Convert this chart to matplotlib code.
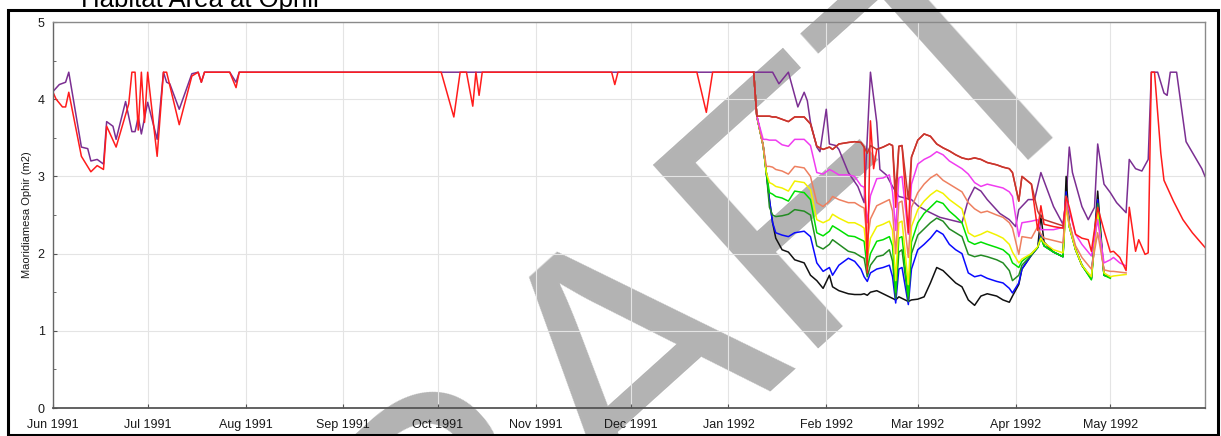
import pandas as pd
import numpy as np
import matplotlib
matplotlib.use('Agg')
import matplotlib.pyplot as plt
import matplotlib.dates as mdates
from matplotlib.ticker import MultipleLocator
from matplotlib.patches import Rectangle

plt.rcParams['font.family'] = ['Liberation Sans', 'DejaVu Sans']

nan = np.nan

# days counted from 1 Jun 1991
purple_days = [0, 2, 4, 5, 9, 11, 12, 14, 16, 17, 19, 20, 23, 25, 26, 27, 28, 30, 33, 35,
               36, 37, 40, 44, 46, 47, 48, 56, 58, 59, 228, 230, 233, 236, 238, 239, 240, 242, 243, 245,
               246, 248, 249, 252, 255, 257, 259, 261, 262, 264, 266, 268, 272, 274, 277, 281, 285, 288, 290, 292,
               294, 296, 298, 300, 303, 305, 306, 309, 311, 313, 315, 317, 320, 321, 322, 323, 326, 328, 330, 331,
               333, 335, 337, 340, 341, 343, 345, 347, 348, 350, 352, 353, 354, 356, 359, 361, 364, 365]
purple_vals = [4.10, 4.19, 4.22, 4.35, 3.38, 3.36, 3.20, 3.22, 3.16, 3.71, 3.65, 3.48, 3.97, 3.58, 3.58, 3.77, 3.55, 3.96, 3.48, 4.35,
               4.22, 4.20, 3.87, 4.33, 4.35, 4.22, 4.35, 4.35, 4.22, 4.35, 4.35, 4.20, 4.35, 3.90, 4.09, 3.98, 3.70, 3.38, 3.32, 3.87,
               3.42, 3.40, 3.35, 3.05, 2.87, 2.66, 4.35, 3.70, 3.09, 3.02, 2.87, 2.74, 2.70, 2.62, 2.55, 2.47, 2.43, 2.40, 2.70, 2.86,
               2.81, 2.70, 2.61, 2.52, 2.44, 2.35, 2.57, 2.70, 2.70, 3.05, 2.83, 2.61, 2.38, 2.70, 3.38, 3.05, 2.61, 2.44, 2.60, 3.42,
               2.90, 2.79, 2.66, 2.53, 3.22, 3.10, 3.07, 3.22, 4.35, 4.35, 4.08, 4.05, 4.35, 4.35, 3.45, 3.31, 3.10, 3.00]

red_days = [0, 1, 3, 4, 5, 9, 12, 14, 16, 17, 20, 24, 25, 26, 27, 28, 29, 30, 33, 35,
            36, 40, 44, 46, 47, 48, 56, 58, 59, 123, 127, 129, 131, 133, 134, 135, 136, 177, 178, 179,
            204, 207, 209, 222, 223, 225, 226, 227, 228, 229, 231, 233, 235, 238, 240, 242, 244, 246, 247, 249,
            252, 254, 256, 257, 258, 259, 260, 261, 263, 265, 266, 267, 268, 269, 271, 272, 274, 276, 278, 280,
            282, 284, 286, 288, 290, 292, 294, 296, 299, 301, 303, 304, 306, 307, 310, 312, 313, 314, 317, 320,
            321, 322, 324, 326, 328, 329, 331, 333, 335, 336, 338, 340, 341, 343, 344, 346, 347, 348, 349, 351,
            352, 355, 358, 361, 365]
red_vals = [4.09, 4.00, 3.90, 3.90, 4.09, 3.26, 3.06, 3.14, 3.09, 3.65, 3.38, 3.94, 4.35, 4.35, 3.60, 4.35, 3.70, 4.35, 3.26, 4.35,
            4.35, 3.67, 4.30, 4.35, 4.22, 4.35, 4.35, 4.15, 4.35, 4.35, 3.77, 4.35, 4.35, 3.91, 4.35, 4.05, 4.35, 4.35, 4.19, 4.35,
            4.35, 3.83, 4.35, 4.35, 3.78, 3.78, 3.78, 3.78, 3.77, 3.77, 3.74, 3.71, 3.77, 3.77, 3.68, 3.39, 3.35, 3.38, 3.35, 3.42,
            3.44, 3.45, 3.44, 3.38, 1.75, 3.72, 3.10, 3.35, 3.38, 3.42, 3.40, 2.60, 3.39, 3.40, 2.27, 3.25, 3.47, 3.55, 3.52, 3.42,
            3.37, 3.33, 3.28, 3.24, 3.22, 3.24, 3.22, 3.18, 3.15, 3.12, 3.10, 3.05, 2.68, 3.00, 2.90, 2.30, 2.62, 2.38, 2.35, 2.33,
            2.74, 2.60, 2.25, 2.20, 2.18, 2.03, 2.60, 2.30, 2.02, 2.03, 1.95, 1.78, 2.60, 2.03, 2.18, 1.99, 2.01, 4.35, 4.35, 3.30,
            2.95, 2.68, 2.44, 2.27, 2.08]

# scenario runs, Jan - May 1992
band_days = [222, 223, 225, 226, 227, 228, 229, 231, 233, 235,
             238, 240, 242, 244, 246, 247, 249, 252, 254, 256,
             257, 258, 259, 261, 263, 265, 266, 267, 268, 269,
             271, 272, 274, 276, 278, 280, 282, 284, 286, 288,
             290, 292, 294, 296, 299, 301, 303, 304, 306, 307,
             310, 312, 313, 314, 317, 320, 321, 322, 324, 326,
             329, 331, 333, 335, 336, 338, 340]

darkred_vals = [4.35, 3.78, 3.78, 3.78, 3.78, 3.77, 3.77, 3.74, 3.71, 3.77,
                3.77, 3.68, 3.39, 3.35, 3.38, 3.35, 3.42, 3.44, 3.45, 3.44,
                3.38, 3.30, 3.40, 3.35, 3.38, 3.42, 3.40, 2.80, 3.39, 3.40,
                2.70, 3.25, 3.47, 3.55, 3.52, 3.42, 3.37, 3.33, 3.28, 3.24,
                3.22, 3.24, 3.22, 3.18, 3.15, 3.12, 3.10, 3.05, 2.68, 3.00,
                2.90, 2.55, 2.47, 2.44, 2.40, 2.36, nan, nan, nan, nan,
                nan, nan, nan, nan, nan, nan, nan]
magenta_vals = [4.35, 3.78, 3.48, 3.48, 3.47, 3.47, 3.47, 3.41, 3.39, 3.48,
                3.48, 3.40, 3.05, 3.03, 3.09, 3.07, 3.02, 3.02, 3.00, 2.88,
                2.86, 2.40, 2.75, 2.97, 2.98, 3.02, 2.80, 2.30, 2.98, 3.00,
                2.25, 2.90, 3.16, 3.22, 3.26, 3.32, 3.28, 3.20, 3.15, 3.10,
                3.03, 2.92, 2.87, 2.90, 2.87, 2.85, 2.80, 2.74, 2.22, 2.40,
                2.42, 2.44, 2.31, 2.31, 2.31, 2.34, 2.74, 2.55, 2.25, 2.12,
                1.97, 2.44, 1.88, 1.92, 1.95, 1.88, 1.84]
salmon_vals = [4.35, 3.78, 3.40, 3.13, 3.13, 3.12, 3.09, 3.07, 3.03, 3.13,
               3.11, 3.00, 2.66, 2.61, 2.68, 2.74, 2.70, 2.66, 2.66, 2.61,
               2.59, 2.15, 2.45, 2.62, 2.66, 2.70, 2.55, 2.00, 2.66, 2.68,
               1.95, 2.60, 2.79, 2.90, 2.98, 3.03, 2.95, 2.90, 2.85, 2.80,
               2.66, 2.58, 2.53, 2.55, 2.50, 2.47, 2.40, 2.33, 1.99, 2.22,
               2.20, 2.35, 2.25, 2.20, 2.17, 2.14, 2.66, 2.40, 2.10, 1.95,
               1.80, 2.27, 1.79, 1.77, 1.77, 1.76, 1.75]
yellow_vals = [4.35, 3.78, 3.40, 3.05, 2.92, 2.90, 2.87, 2.85, 2.81, 2.94,
               2.92, 2.83, 2.44, 2.40, 2.44, 2.51, 2.46, 2.40, 2.40, 2.36,
               2.33, 1.95, 2.20, 2.35, 2.38, 2.42, 2.30, 1.65, 2.40, 2.42,
               1.60, 2.35, 2.57, 2.68, 2.76, 2.82, 2.78, 2.70, 2.64, 2.58,
               2.27, 2.22, 2.25, 2.29, 2.24, 2.20, 2.12, 2.02, 1.88, 1.93,
               2.00, 2.09, 2.20, 2.14, 2.05, 2.01, 2.60, 2.35, 2.05, 1.85,
               1.70, 2.53, 1.75, 1.70, 1.71, 1.72, 1.73]
lime_vals = [4.35, 3.78, 3.40, 3.05, 2.79, 2.77, 2.74, 2.72, 2.68, 2.81,
             2.79, 2.70, 2.27, 2.23, 2.29, 2.36, 2.31, 2.23, 2.22, 2.18,
             2.16, 1.80, 2.00, 2.16, 2.18, 2.22, 2.10, 1.50, 2.20, 2.22,
             1.45, 2.15, 2.40, 2.52, 2.60, 2.68, 2.65, 2.55, 2.48, 2.40,
             2.16, 2.12, 2.15, 2.12, 2.08, 2.05, 1.98, 1.88, 1.82, 1.90,
             2.00, 2.08, 2.20, 2.10, 2.02, 1.96, 2.70, 2.35, 2.05, 1.85,
             1.66, 2.60, 1.72, 1.68, nan, nan, nan]
green_vals = [4.35, 3.78, 3.40, 3.05, 2.60, 2.50, 2.48, 2.49, 2.51, 2.57,
              2.55, 2.50, 2.10, 2.06, 2.12, 2.18, 2.12, 2.03, 2.01, 1.96,
              1.94, 1.70, 1.85, 1.96, 1.98, 2.05, 1.90, 1.42, 2.02, 2.05,
              1.38, 2.00, 2.24, 2.32, 2.40, 2.46, 2.42, 2.32, 2.27, 2.22,
              1.99, 1.96, 1.98, 1.96, 1.92, 1.88, 1.78, 1.65, 1.72, 1.85,
              1.98, 2.08, 2.22, 2.10, 2.02, 1.96, 2.75, 2.35, 2.05, 1.85,
              1.67, 2.65, 1.72, 1.69, nan, nan, nan]
blue_vals = [4.35, 3.78, 3.40, 3.05, 2.70, 2.40, 2.27, 2.24, 2.22, 2.27,
             2.29, 2.22, 1.88, 1.77, 1.82, 1.72, 1.85, 1.94, 1.90, 1.80,
             1.70, 1.64, 1.75, 1.80, 1.82, 1.85, 1.70, 1.36, 1.80, 1.82,
             1.34, 1.80, 2.05, 2.12, 2.20, 2.30, 2.25, 2.12, 2.05, 2.00,
             1.75, 1.70, 1.72, 1.68, 1.64, 1.62, 1.55, 1.49, 1.62, 1.80,
             1.98, 2.08, 2.25, 2.10, 2.02, 1.96, 2.80, 2.35, 2.05, 1.85,
             1.68, 2.70, 1.72, 1.70, nan, nan, nan]
black_vals = [4.35, 3.78, 3.40, 3.05, 2.70, 2.40, 2.20, 2.05, 2.02, 1.92,
              1.88, 1.72, 1.65, 1.55, 1.72, 1.57, 1.52, 1.48, 1.47, 1.47,
              1.48, 1.46, 1.50, 1.52, 1.48, 1.44, 1.42, 1.40, 1.44, 1.42,
              1.38, 1.40, 1.41, 1.44, 1.62, 1.82, 1.78, 1.70, 1.62, 1.57,
              1.40, 1.33, 1.45, 1.48, 1.45, 1.40, 1.37, 1.45, 1.60, 1.80,
              1.98, 2.08, 2.50, 2.15, 2.02, 1.96, 3.00, 2.40, 2.05, 1.85,
              1.68, 2.81, 1.72, 1.70, nan, nan, nan]

start = pd.Timestamp('1991-06-01')


def to_dates(days):
    return start + pd.to_timedelta(days, unit='D')


fig = plt.figure(figsize=(12.21, 4.36), dpi=100)
fig.patch.set_facecolor('white')
ax = fig.add_axes([0.0434, 0.0642, 0.9435, 0.8853])
ax.set_facecolor('none')

# DRAFT watermark behind the plot
fig.text(0.5496, -0.041, 'DRAFT', fontsize=258, color='#b3b3b3', rotation=42,
         rotation_mode='anchor', ha='center', va='baseline', zorder=-1)

lw = 1.1
bd = to_dates(band_days)

ax.plot(to_dates(purple_days), purple_vals, color='#7b2f92', lw=lw)

# lowest scenario drawn first so the upper ones sit on top where they share a path
lower_bands = [
    (black_vals, '#111111'),
    (blue_vals, '#0a0aff'),
    (green_vals, '#238b23'),
    (lime_vals, '#00e000'),
    (yellow_vals, '#f2f200'),
    (salmon_vals, '#ee8060'),
    (magenta_vals, '#f03cf0'),
]
for vals, col in lower_bands:
    ax.plot(bd, vals, color=col, lw=lw)

ax.plot(to_dates(red_days), red_vals, color='#ff1c1c', lw=lw)
ax.plot(bd, darkred_vals, color='#c2392f', lw=lw)

ax.set_xlim(start, start + pd.Timedelta(days=365))
ax.set_ylim(0, 5)
ax.xaxis.set_major_locator(mdates.MonthLocator())
ax.xaxis.set_major_formatter(mdates.DateFormatter('%b %Y'))
ax.yaxis.set_major_locator(MultipleLocator(1))
ax.yaxis.set_minor_locator(MultipleLocator(0.5))
ax.grid(True, which='major', color='#e4e4e4', lw=0.8)
ax.set_axisbelow(True)

for s in ax.spines.values():
    s.set_color('#8a8a8a')
    s.set_linewidth(1.0)
ax.spines['left'].set_color('#666666')
ax.spines['bottom'].set_color('#555555')
ax.spines['bottom'].set_linewidth(1.3)

ax.tick_params(axis='both', which='major', direction='in', length=3, color='#555555',
               labelsize=9, labelcolor='#1a1a1a')
ax.tick_params(axis='x', pad=8)
ax.tick_params(axis='y', pad=6)
ax.tick_params(axis='y', which='minor', direction='in', length=2, color='#555555')

ax.set_ylabel('Maoridiamesa Ophir (m2)', fontsize=8, labelpad=4, color='#1a1a1a')

fig.text(201 / 1221, 1 - 7 / 436, 'Habitat Area at Ophir', fontsize=18.5,
         ha='center', va='baseline')

fig.add_artist(Rectangle((8 / 1221, 1.5 / 436), 1210 / 1221, 424 / 436,
                         transform=fig.transFigure, fill=False, ec='black', lw=2.2))

fig.savefig('out.png', dpi=100)
